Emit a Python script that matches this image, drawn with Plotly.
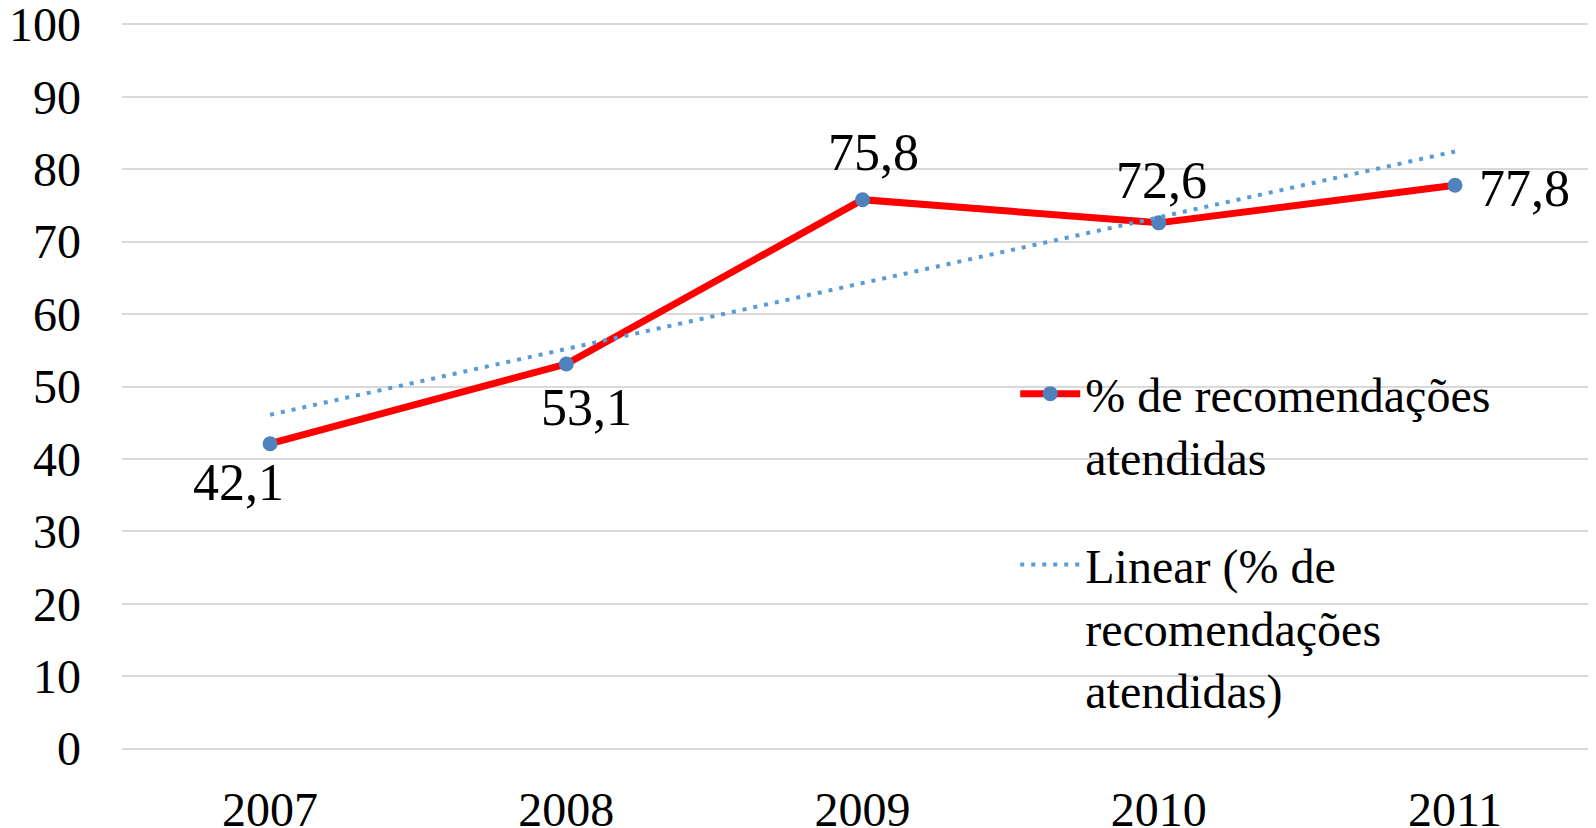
import numpy as np
import plotly.graph_objects as go

years = ["2007", "2008", "2009", "2010", "2011"]
values = [42.1, 53.1, 75.8, 72.6, 77.8]
value_labels = ["42,1", "53,1", "75,8", "72,6", "77,8"]
y_ticks = [0, 10, 20, 30, 40, 50, 60, 70, 80, 90, 100]

series_name = "% de recomendações<br>atendidas"
trend_name = "Linear (% de<br>recomendações<br>atendidas)"

# linear trendline (least squares), as Excel computes it
xi = np.arange(1, len(values) + 1)
slope, intercept = np.polyfit(xi, values, 1)
trend = [float(t) for t in slope * xi + intercept]

FONT = "Liberation Serif, Times New Roman, serif"

fig = go.Figure()
fig.add_trace(go.Scatter(
    x=years, y=values, mode="lines+markers", name=series_name,
    legendgroup="s1",
    line=dict(color="#FF0000", width=7),
    marker=dict(color="#4F81BD", size=15),
))
fig.add_trace(go.Scatter(
    x=years, y=trend, mode="lines", name=trend_name,
    legendgroup="s2",
    line=dict(color="#5B9BD5", width=4, dash="4px,7px"),
))

# data labels (positions relative to each point)
offsets = [(-32, -39), (20, -43), (11, 47), (3, 42), (69, -3)]
for i, (v, lab, (dx, dy)) in enumerate(zip(values, value_labels, offsets)):
    fig.add_annotation(x=i, y=v, xref="x", yref="y", text=lab,
                       showarrow=False, xshift=dx, yshift=dy,
                       font=dict(family=FONT, size=52, color="black"))

# the page body adds an 8px offset; the figure is sized to fill the rest
fig.update_layout(
    width=1588, height=820,
    margin=dict(l=114, r=0, t=14.5, b=77.5, autoexpand=False),
    paper_bgcolor="white", plot_bgcolor="white",
    font=dict(family=FONT, size=48, color="black"),
    showlegend=True,
    legend=dict(x=0.606, y=0.542, xanchor="left", yanchor="top",
                valign="top", bgcolor="rgba(0,0,0,0)", tracegroupgap=43,
                itemwidth=60,
                font=dict(family=FONT, size=48, color="black")),
)
fig.update_xaxes(
    type="category", range=[-0.5, 4.476], automargin=False,
    showgrid=False, zeroline=False, showline=False,
    ticks="", ticklabelstandoff=27,
    tickfont=dict(family=FONT, size=48, color="black"),
)
fig.update_yaxes(
    range=[-0.2, 100.2], tickvals=y_ticks, automargin=False,
    showgrid=True, gridcolor="#D9D9D9", gridwidth=1.5,
    zeroline=False, showline=False, ticklabeloverflow="allow",
    ticks="", ticklabelstandoff=40,
    tickfont=dict(family=FONT, size=48, color="black"),
)

fig.write_html("out.html")
